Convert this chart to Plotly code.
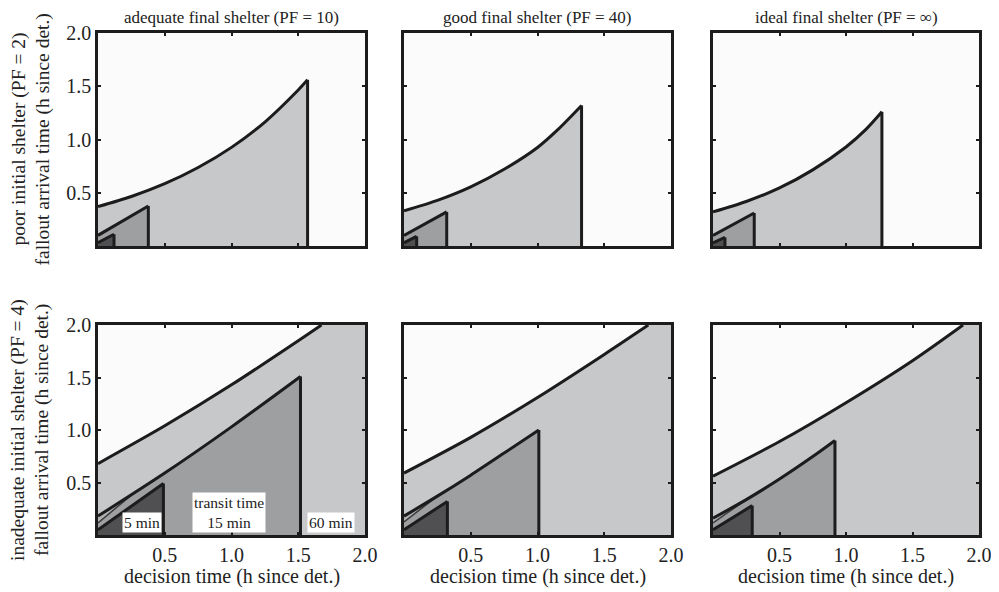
import plotly.graph_objects as go

# ---------------- data ----------------
col_titles = ["adequate final shelter (PF = 10)", "good final shelter (PF = 40)", "ideal final shelter (PF = ∞)"]
row_titles = ["poor initial shelter (PF = 2)", "inadequate initial shelter (PF = 4)"]
y_title = "fallout arrival time (h since det.)"
x_title = "decision time (h since det.)"
tick_vals = [0.5, 1.0, 1.5, 2.0]
tick_text = ["0.5", "1.0", "1.5", "2.0"]
transit_labels = ["5 min", "transit time<br>15 min", "60 min"]
transit_label_x = [0.327, 0.98, 1.745]

# top row (poor initial shelter)
tl60_x = [0, 0.25, 0.5, 0.75, 1.0, 1.25, 1.5, 1.57]
tl60_y = [0.37, 0.465, 0.585, 0.737, 0.926, 1.164, 1.465, 1.56]
tl15_x = [0, 0.377]
tl15_y = [0.10, 0.376]
tl5_x = [0, 0.12]
tl5_y = [0.03, 0.11]

tm60_x = [0, 0.25, 0.5, 0.75, 1.0, 1.15, 1.33]
tm60_y = [0.33, 0.428, 0.555, 0.72, 0.925, 1.09, 1.32]
tm15_x = [0, 0.32]
tm15_y = [0.10, 0.32]
tm5_x = [0, 0.095]
tm5_y = [0.03, 0.09]

tr60_x = [0, 0.25, 0.5, 0.75, 1.0, 1.15, 1.27]
tr60_y = [0.32, 0.418, 0.545, 0.715, 0.93, 1.095, 1.26]
tr15_x = [0, 0.31]
tr15_y = [0.10, 0.31]
tr5_x = [0, 0.09]
tr5_y = [0.03, 0.08]

# bottom row (inadequate initial shelter)
bl60_x = [0, 0.5, 1.0, 1.5, 1.674]
bl60_y = [0.68, 1.04, 1.43, 1.85, 2.0]
bl15_x = [0, 0.5, 1.0, 1.517]
bl15_y = [0.18, 0.59, 1.03, 1.51]
bl5_x = [0, 0.49]
bl5_y = [0.05, 0.49]
bl_band_x = [0, 0.25]
bl_band_y = [0.115, 0.38]

bm60_x = [0, 0.5, 1.0, 1.5, 1.83]
bm60_y = [0.59, 0.93, 1.31, 1.72, 2.0]
bm15_x = [0, 0.25, 0.5, 0.75, 1.01]
bm15_y = [0.18, 0.37, 0.57, 0.78, 1.0]
bm5_x = [0, 0.325]
bm5_y = [0.05, 0.32]
bm_band_x = [0, 0.25]
bm_band_y = [0.125, 0.37]

br60_x = [0, 0.5, 1.0, 1.5, 1.88]
br60_y = [0.56, 0.89, 1.26, 1.66, 2.0]
br15_x = [0, 0.25, 0.5, 0.75, 0.917]
br15_y = [0.16, 0.337, 0.533, 0.747, 0.90]
br5_x = [0, 0.295]
br5_y = [0.05, 0.28]
br_band_x = [0, 0.25]
br_band_y = [0.115, 0.337]

panels = [
    [(tl60_x, tl60_y), (tl15_x, tl15_y), (tl5_x, tl5_y)],
    [(tm60_x, tm60_y), (tm15_x, tm15_y), (tm5_x, tm5_y)],
    [(tr60_x, tr60_y), (tr15_x, tr15_y), (tr5_x, tr5_y)],
    [(bl60_x, bl60_y), (bl15_x, bl15_y), (bl5_x, bl5_y)],
    [(bm60_x, bm60_y), (bm15_x, bm15_y), (bm5_x, bm5_y)],
    [(br60_x, br60_y), (br15_x, br15_y), (br5_x, br5_y)],
]
bands = [None, None, None,
         (bl15_x, bl15_y, bl_band_x, bl_band_y),
         (bm15_x, bm15_y, bm_band_x, bm_band_y),
         (br15_x, br15_y, br_band_x, br_band_y)]

# ---------------- style ----------------
OFF = 8                    # page body margin
W, H = 999 - OFF, 592 - OFF
FONT = "Liberation Serif"
TXT = "#222222"
fills = ["#c7c8ca", "#9e9fa1", "#505052"]
BAND = "#b1b2b4"
EDGE = "#1c1c1c"
BG = "#fbfbfb"

col_px = [(98, 365), (404, 671), (713, 979)]
row_px = [(33, 246), (325, 535)]


def fx(px):
    return (px - OFF) / W


def fy(py):
    return 1 - (py - OFF) / H


fig = go.Figure()

for p, regions in enumerate(panels):
    r, c = divmod(p, 3)
    ax = "" if p == 0 else str(p + 1)
    kw = dict(xaxis="x" + ax, yaxis="y" + ax, showlegend=False, hoverinfo="skip")
    for k, (xs, ys) in enumerate(regions):
        xs = list(xs)
        ys = list(ys)
        if ys[-1] >= 2.0:
            px = xs + [2.0, 2.0, 0, 0]
            py = ys + [2.0, 0, 0, ys[0]]
        else:
            px = xs + [xs[-1], 0, 0]
            py = ys + [0, 0, ys[0]]
        fig.add_trace(go.Scatter(x=px, y=py, mode="lines", fill="toself",
                                 fillcolor=fills[k], line=dict(color=fills[k], width=0.5), **kw))
        if k == 1 and bands[p] is not None:
            cx, cy, bx, by = bands[p]
            # thin lighter wedge just under the 15-min boundary at the left edge
            wx = [bx[0], bx[1], bx[0]]
            wy = [cy[0], by[1], by[0]]
            fig.add_trace(go.Scatter(x=wx, y=wy, mode="lines", fill="toself",
                                     fillcolor=BAND, line=dict(color=BAND, width=0.5), **kw))
            fig.add_trace(go.Scatter(x=bx, y=by, mode="lines",
                                     line=dict(color="#3a3a3a", width=1.5), **kw))
        fig.add_trace(go.Scatter(x=xs, y=ys, mode="lines",
                                 line=dict(color=EDGE, width=3, shape="spline", smoothing=0.8), **kw))
        if ys[-1] < 2.0:
            fig.add_trace(go.Scatter(x=[xs[-1], xs[-1]], y=[ys[-1], 0], mode="lines",
                                     line=dict(color=EDGE, width=3), **kw))
    x0, x1 = col_px[c]
    y0, y1 = row_px[r]
    common = dict(range=[0, 2], showgrid=False, zeroline=False, showline=True,
                  linecolor=EDGE, linewidth=2.5, mirror="allticks", ticks="inside",
                  ticklen=3, tickwidth=1.5, tickcolor=EDGE, tickvals=tick_vals,
                  ticktext=tick_text, tickfont=dict(family=FONT, size=20, color=TXT),
                  fixedrange=True, automargin=False)
    fig.layout["xaxis" + ax] = dict(common, domain=[fx(x0), fx(x1)],
                                    anchor="y" + ax, showticklabels=(r == 1))
    fig.layout["yaxis" + ax] = dict(common, domain=[fy(y1), fy(y0)],
                                    anchor="x" + ax, showticklabels=(c == 0))

annotations = []
for c, t in enumerate(col_titles):
    x0, x1 = col_px[c]
    annotations.append(dict(text=t, x=fx((x0 + x1) / 2), y=fy(17), xref="paper", yref="paper",
                            xanchor="center", yanchor="middle",
                            showarrow=False, font=dict(family=FONT, size=17, color=TXT)))
    annotations.append(dict(text=x_title, x=fx((x0 + x1) / 2), y=fy(576), xref="paper", yref="paper",
                            xanchor="center", yanchor="middle",
                            showarrow=False, font=dict(family=FONT, size=20, color=TXT)))
for r, t in enumerate(row_titles):
    y0, y1 = row_px[r]
    yc = fy((y0 + y1) / 2)
    annotations.append(dict(text=t, x=fx(18), y=yc, xref="paper", yref="paper", textangle=-90,
                            xanchor="center", yanchor="middle",
                            showarrow=False, font=dict(family=FONT, size=19.5, color=TXT)))
    annotations.append(dict(text=y_title, x=fx(42), y=yc, xref="paper", yref="paper", textangle=-90,
                            xanchor="center", yanchor="middle",
                            showarrow=False, font=dict(family=FONT, size=19.5, color=TXT)))
for lbl, lx in zip(transit_labels, transit_label_x):
    annotations.append(dict(text=lbl, x=lx, y=0.02, xref="x4", yref="y4",
                            xanchor="center", yanchor="bottom",
                            showarrow=False, bgcolor="white", borderpad=1,
                            font=dict(family=FONT, size=15.5, color=TXT)))

fig.update_layout(width=W, height=H, margin=dict(l=0, r=0, t=0, b=0, pad=0),
                  paper_bgcolor="white", plot_bgcolor=BG, annotations=annotations,
                  showlegend=False)

fig.write_html("out.html")
